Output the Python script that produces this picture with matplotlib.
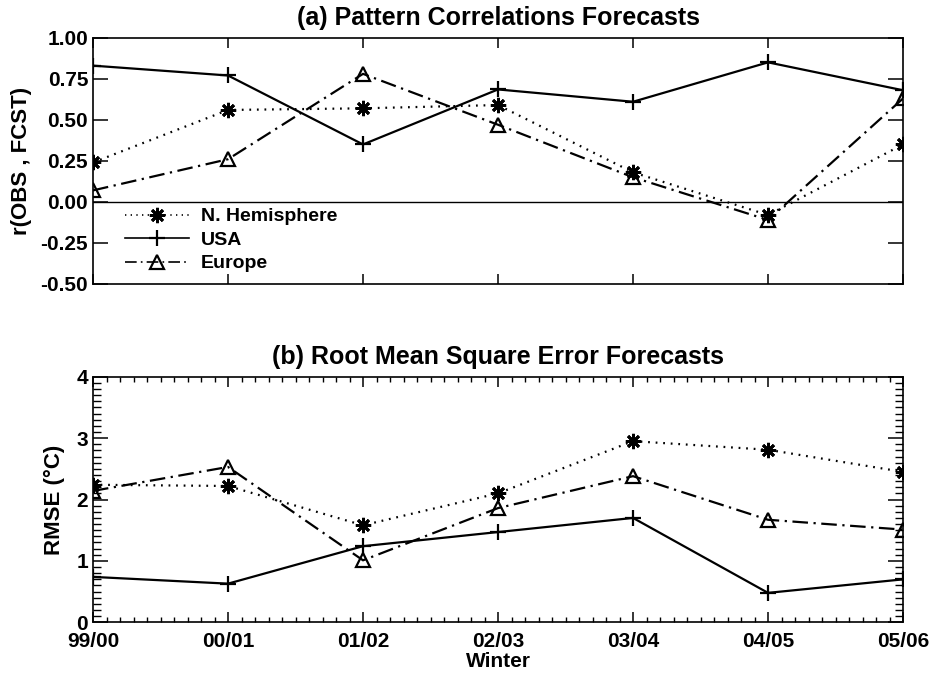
import matplotlib
matplotlib.use('Agg')
import matplotlib.pyplot as plt
from matplotlib.ticker import MultipleLocator

winters = ['99/00', '00/01', '01/02', '02/03', '03/04', '04/05', '05/06']

# (a) pattern correlations
corr_nh = [0.24, 0.56, 0.57, 0.59, 0.18, -0.08, 0.35]
corr_usa = [0.83, 0.77, 0.35, 0.685, 0.61, 0.85, 0.68]
corr_eu = [0.07, 0.26, 0.78, 0.47, 0.15, -0.11, 0.63]

# (b) rmse
rmse_nh = [2.24, 2.22, 1.58, 2.10, 2.95, 2.81, 2.45]
rmse_usa = [0.74, 0.63, 1.24, 1.47, 1.70, 0.48, 0.70]
rmse_eu = [2.14, 2.53, 1.01, 1.86, 2.38, 1.67, 1.51]

plt.rcParams['font.family'] = ['Liberation Sans', 'DejaVu Sans']
plt.rcParams['font.weight'] = 'bold'
plt.rcParams['axes.labelweight'] = 'bold'
plt.rcParams['axes.titleweight'] = 'bold'
plt.rcParams['axes.linewidth'] = 1.2

fig = plt.figure(figsize=(9.3, 6.75), dpi=100)
ax1 = fig.add_axes([0.1, 0.5793, 0.871, 0.3648])
ax2 = fig.add_axes([0.1, 0.078, 0.871, 0.364])

x = list(range(len(winters)))
lw = 1.6
star = (8, 2, 0)
nh_style = dict(color='k', lw=lw, linestyle=(0, (0.8, 2.6)), marker=star, ms=11, mew=2.0)
usa_style = dict(color='k', lw=lw, linestyle='-', marker='+', ms=12, mew=1.6)
eu_style = dict(color='k', lw=lw, linestyle=(0, (7, 2.5, 1, 2.5)), marker='^', ms=10,
                mew=1.6, mfc='none')


def style_axes(ax, minor):
    ax.set_xlim(0, len(winters) - 1)
    ax.set_xticks(x)
    ax.tick_params(which='major', direction='in', top=True, right=True,
                   labelsize=15, width=1.1)
    ax.tick_params(axis='x', which='major', length=7)
    ax.tick_params(axis='y', which='major', length=11)
    if minor:
        ax.xaxis.set_minor_locator(MultipleLocator(0.1))
        ax.yaxis.set_minor_locator(MultipleLocator(0.1))
        ax.tick_params(which='minor', direction='in', top=True, right=True, width=1.0)
        ax.tick_params(axis='x', which='minor', length=3.5)
        ax.tick_params(axis='y', which='minor', length=5.5)


# ----- (a) -----
ax1.plot(x, corr_nh, label='N. Hemisphere', **nh_style)
ax1.plot(x, corr_usa, label='USA', **usa_style)
ax1.plot(x, corr_eu, label='Europe', **eu_style)
ax1.axhline(0, color='k', lw=1.0)
ax1.set_ylim(-0.5, 1.0)
ax1.set_yticks([-0.5, -0.25, 0, 0.25, 0.5, 0.75, 1.0])
ax1.set_yticklabels(['-0.50', '-0.25', '0.00', '0.25', '0.50', '0.75', '1.00'])
style_axes(ax1, False)
ax1.set_xticklabels([])
ax1.set_ylabel('r(OBS , FCST)', fontsize=16, labelpad=6)
ax1.set_title('(a) Pattern Correlations Forecasts', fontsize=18, pad=9)
leg = ax1.legend(loc='lower left', bbox_to_anchor=(0.025, 0.0), frameon=False,
                 fontsize=14, handlelength=3.3, handletextpad=0.6,
                 labelspacing=0.3, borderaxespad=0.2)
for ln in leg.get_lines():
    ln.set_linewidth(1.2)

# ----- (b) -----
ax2.plot(x, rmse_nh, **nh_style)
ax2.plot(x, rmse_usa, **usa_style)
ax2.plot(x, rmse_eu, **eu_style)
ax2.set_ylim(0, 4)
ax2.set_yticks([0, 1, 2, 3, 4])
style_axes(ax2, True)
ax2.yaxis.set_minor_locator(MultipleLocator(0.1))
ax2.set_xticklabels(winters)
ax2.tick_params(axis='x', pad=7)
ax2.set_ylabel('RMSE (\u00b0C)', fontsize=16, labelpad=8)
ax2.set_xlabel('Winter', fontsize=15, labelpad=1)
ax2.set_title('(b) Root Mean Square Error Forecasts', fontsize=18, pad=9)

fig.savefig('out.png', dpi=100)
